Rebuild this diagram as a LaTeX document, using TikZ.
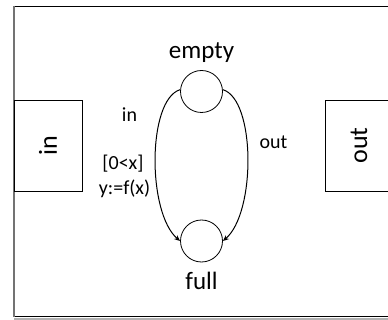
\documentclass[tikz,border=0pt]{standalone}
\usepackage{fontspec}
\setmainfont{Carlito}
\usetikzlibrary{arrows.meta}
\begin{document}
\begin{tikzpicture}[x=1pt,y=-1pt,
  state/.style={circle,draw,line width=0.8pt,minimum size=42pt,inner sep=0pt},
  port/.style={draw,line width=0.8pt,rectangle,rotate=90,
    minimum width=91pt,minimum height=68pt,inner sep=0pt,
    font=\fontsize{26}{30}\selectfont},
  statelbl/.style={anchor=base,inner sep=0pt,font=\fontsize{25}{30}\selectfont},
  translbl/.style={anchor=base,inner sep=0pt,font=\fontsize{20}{25}\selectfont},
  trans/.style={line width=1pt,-{Stealth[length=6pt,width=5pt,inset=2pt]}}
]
\useasboundingbox (0,0) rectangle (388,320);
% enclosing block with its shadow
\fill[white] (0,0) rectangle (388,320);
\draw[black!30,line width=2pt] (14,319) -- (400,319);
\draw[black,line width=0.9pt] (14,6.5) -- (400,6.5);
\draw[black,line width=1.3pt] (14,316.5) -- (400,316.5);
\draw[black!55,line width=1.8pt] (14,6) -- (14,317);

% ports
\node[port] (inport) at (48,145.5) {in};
\node[port] (outport) at (359,145.5) {out};

% states
\node[state] (empty) at (201.5,91.5) {};
\node[state] (full) at (201.5,241) {};
\node[statelbl] (emptylbl) at (201.5,59) {empty};
\node[statelbl] (fulllbl) at (201.5,290) {full};

% transitions
\draw[trans] (empty.175) .. controls +(-33,10) and +(-33,-28) .. (full.180);
\draw[trans] (empty.5) .. controls +(33,10) and +(33,-28) .. (full.0);

% transition labels
\node[translbl] (inlbl) at (129.5,122) {in};
\node[translbl] (guardlbl) at (123,170) {[0<x]};
\node[translbl] (actlbl) at (124.5,195) {y:=f(x)};
\node[translbl] (outlbl) at (273.5,149) {out};
\end{tikzpicture}
\end{document}
